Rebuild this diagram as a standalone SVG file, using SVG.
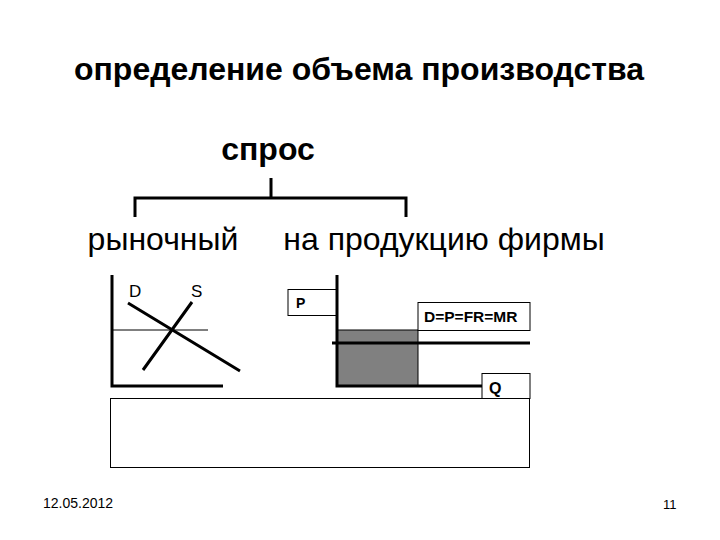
<svg xmlns="http://www.w3.org/2000/svg" width="720" height="540" viewBox="0 0 720 540">
<style>
text{font-family:"Liberation Sans",Arial,sans-serif;fill:#000}
.b{font-weight:bold}
.big{font-size:32px}
.thin{stroke:#000;stroke-width:1;fill:none}
.thick{stroke:#000;stroke-width:3;fill:none}
.box{fill:#fff;stroke:#000;stroke-width:1}
</style>
<rect width="720" height="540" fill="#fff"/>
<g id="title"><text x="359" y="80" class="b big" text-anchor="middle">определение объема производства</text></g>
<g id="spros"><text x="268" y="160" class="b big" text-anchor="middle">спрос</text></g>
<g id="market"><text x="163" y="250" class="big" text-anchor="middle">рыночный</text></g>
<g id="firm"><text x="444" y="250" class="big" text-anchor="middle">на продукцию фирмы</text></g>
<g id="connectors">
<path class="thick" d="M271 178V198M135 217V198H406V217"/>
</g>
<g id="market-chart">
<path class="thin" d="M112 330H208"/>
<path class="thick" d="M112 275V386H223"/>
<path class="thick" d="M128 303L240 371M143 370L192 302"/>
<text x="129" y="297" font-size="17">D</text>
<text x="191" y="297" font-size="17">S</text>
</g>
<g id="firm-chart">
<rect x="337" y="330" width="81" height="56" fill="#808080" stroke="#000" stroke-width="1"/>
<path class="thick" d="M337 275V386H483"/>
<path class="thick" d="M332 343H530"/>
<rect class="box" x="288" y="289.5" width="48" height="26"/>
<text x="296" y="308" font-size="14" class="b">P</text>
<rect class="box" x="418" y="302.5" width="112" height="28"/>
<text x="424" y="322" font-size="15.5" class="b">D=P=FR=MR</text>
<rect class="box" x="482" y="373.5" width="48" height="25"/>
<text x="489" y="394" font-size="16" class="b">Q</text>
</g>
<g id="bottom-box"><rect class="box" x="110.5" y="398.5" width="419" height="69"/></g>
<g id="footer">
<text x="43" y="508" font-size="14">12.05.2012</text>
<text x="663" y="509" font-size="13">11</text>
</g>
</svg>
